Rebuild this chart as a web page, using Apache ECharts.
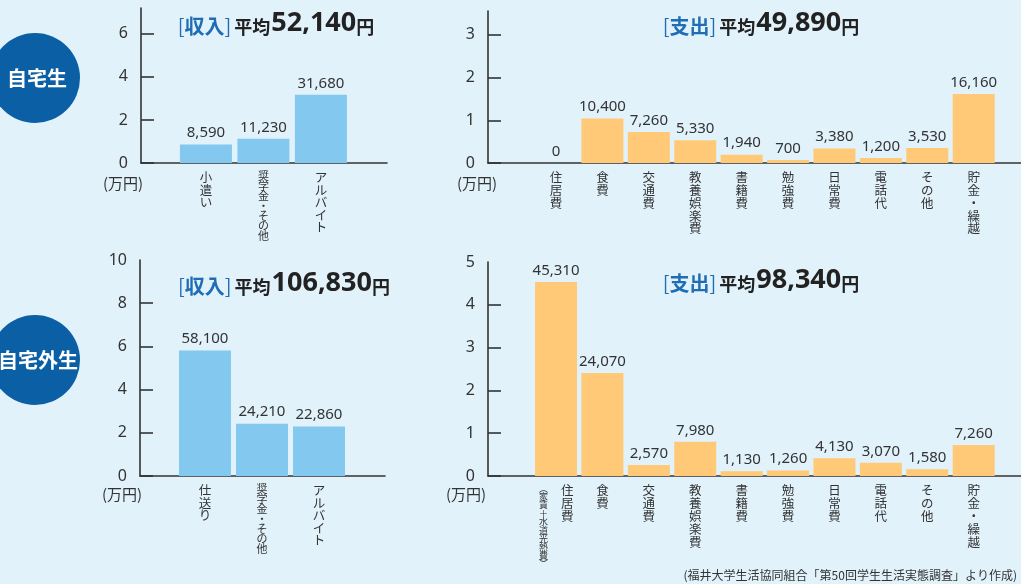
<!DOCTYPE html>
<html>
<head>
<meta charset="utf-8">
<script src="https://cdn.jsdelivr.net/npm/echarts@6/dist/echarts.min.js"></script>
<style>
html,body{margin:0;padding:0;background:#e1f2fb;}
#c{width:1021px;height:584px;}
</style>
</head>
<body>
<div id="c"></div>
<script>
// ---- data ----
const incomeCatsHome = ['小遣い', '奨学金・その他', 'アルバイト'];
const incomeHome = [8590, 11230, 31680];
const incomeCatsAway = ['仕送り', '奨学金・その他', 'アルバイト'];
const incomeAway = [58100, 24210, 22860];
const expenseCats = ['住居費', '食費', '交通費', '教養娯楽費', '書籍費', '勉強費', '日常費', '電話代', 'その他', '貯金・繰越'];
const expenseHome = [0, 10400, 7260, 5330, 1940, 700, 3380, 1200, 3530, 16160];
const expenseAway = [45310, 24070, 2570, 7980, 1130, 1260, 4130, 3070, 1580, 7260];
const housingNote = '︵家賃＋水道光熱費︶';
const avgIncomeHome = 52140, avgExpenseHome = 49890, avgIncomeAway = 106830, avgExpenseAway = 98340;
const groupNames = ['自宅生', '自宅外生'];
const yTicksTL = [0, 2, 4, 6], yLabelsTL = [0, 2, 4, 6];
const yTicksTR = [0, 1, 2, 3], yLabelsTR = [0, 1, 2, 3];
const yTicksBL = [0, 2, 4, 6, 8], yLabelsBL = [0, 2, 4, 6, 8, 10];
const yTicksBR = [0, 1, 2, 3, 4], yLabelsBR = [0, 1, 2, 3, 4, 5];
const unitLabel = '(万円)';
const sourceText = '(福井大学生活協同組合「第50回学生生活実態調査」より作成)';

// ---- styling ----
const FONT = '"Noto Sans", "Noto Sans CJK JP", sans-serif';
const CJK = '"Noto Sans CJK JP", sans-serif';
const INK = '#333333';
const BLUE_BAR = '#83c8ee';
const ORANGE_BAR = '#ffc977';
const fmt = v => v.toLocaleString('en-US');
const vert = s => s.split('').join('\n');

function labelFormatter(cats) {
  return function (v) {
    const i = Math.round(v);
    const name = cats[i];
    if (name === undefined) return '';
    if (name.indexOf('・') >= 0 && name.length >= 7) return '{s|' + vert(name) + '}';
    return '{m|' + vert(name) + '}';
  };
}
function xAxisDef(grid, min, max, cats, custom, fs, lh) {
  return {
    type: 'value', gridIndex: grid, min: min, max: max, position: 'bottom',
    axisLine: { show: true, onZero: false, lineStyle: { color: INK, width: 1.6 } },
    axisTick: { show: false }, splitLine: { show: false },
    axisLabel: {
      customValues: custom, formatter: labelFormatter(cats), margin: 8,
      color: INK, fontFamily: CJK, fontSize: fs, lineHeight: lh, verticalAlign: 'top',
      rich: {
        m: { fontFamily: CJK, fontSize: fs, lineHeight: lh, color: INK },
        s: { fontFamily: CJK, fontSize: 11, lineHeight: 10, color: INK }
      }
    }
  };
}
function yAxisDef(grid, max, ticks, labels) {
  return {
    type: 'value', gridIndex: grid, min: 0, max: max,
    axisLine: { show: true, onZero: false, lineStyle: { color: INK, width: 1.6 } },
    axisTick: { show: true, inside: true, length: 13, customValues: ticks, lineStyle: { color: INK, width: 1.6 } },
    axisLabel: { customValues: labels, color: INK, fontFamily: FONT, fontSize: 16, margin: 13 },
    splitLine: { show: false }
  };
}
function barSeries(idx, vals, color, width) {
  return {
    type: 'bar', xAxisIndex: idx, yAxisIndex: idx, barWidth: width,
    data: vals.map((v, i) => [i, v / 10000]),
    itemStyle: { color: color },
    label: {
      show: true, position: 'top', distance: 4, color: INK, fontFamily: FONT, fontSize: 15,
      formatter: p => fmt(vals[p.dataIndex])
    },
    silent: true
  };
}
function titleText(x, y, kind, amount) {
  return {
    type: 'text', x: x, y: y,
    style: {
      text: '{br|[}{bk|' + kind + '}{br|]}{k|平均}{n|' + fmt(amount) + '}{y|円}',
      align: 'center', verticalAlign: 'middle',
      rich: {
        br: { fontFamily: CJK, fontSize: 20, fill: '#1f6db5', verticalAlign: 'bottom', lineHeight: 28 },
        bk: { fontFamily: CJK, fontSize: 20, fill: '#1f6db5', fontWeight: 'bold', verticalAlign: 'bottom', lineHeight: 28 },
        k: { fontFamily: CJK, fontSize: 18, fill: '#222', fontWeight: 'bold', verticalAlign: 'bottom', lineHeight: 27, padding: [0, 1, 0, 3] },
        n: { fontFamily: FONT, fontSize: 27, fill: '#222', fontWeight: 'bold', verticalAlign: 'bottom', lineHeight: 31 },
        y: { fontFamily: CJK, fontSize: 18, fill: '#222', fontWeight: 'bold', verticalAlign: 'bottom', lineHeight: 27 }
      }
    }
  };
}
function plainText(x, y, text, size, align, color, weight) {
  return { type: 'text', x: x, y: y, style: { text: text, fontFamily: CJK, fontSize: size, fill: color || INK, align: align || 'center', verticalAlign: 'middle', fontWeight: weight || 'normal' } };
}

const subAxis = xAxisDef(3, -1.466, 10.02, [housingNote], [-0.27], 9, 8.4);
subAxis.axisLine.show = false;
subAxis.axisLabel.formatter = () => '{t|' + vert(housingNote) + '}';
subAxis.axisLabel.rich.t = { fontFamily: CJK, fontSize: 9, lineHeight: 8.4, color: INK };

const option = {
  backgroundColor: '#e1f2fb',
  animation: false,
  grid: [
    { left: 141, top: 8, width: 246, height: 155 },
    { left: 488, top: 11, width: 533, height: 152 },
    { left: 140, top: 260, width: 245, height: 216 },
    { left: 488, top: 262, width: 533, height: 214 }
  ],
  xAxis: [
    xAxisDef(0, -1.13, 3.15, incomeCatsHome, [0, 1, 2], 12.5, 12.5),
    xAxisDef(1, -1.466, 10.02, expenseCats, [0, 1, 2, 3, 4, 5, 6, 7, 8, 9], 12.5, 12.8),
    xAxisDef(2, -1.14, 3.158, incomeCatsAway, [0, 1, 2], 12.5, 12.5),
    xAxisDef(3, -1.466, 10.02, expenseCats, [0.24, 1, 2, 3, 4, 5, 6, 7, 8, 9], 12.5, 13),
    subAxis
  ],
  yAxis: [
    yAxisDef(0, 7.2, yTicksTL, yLabelsTL),
    yAxisDef(1, 3.56, yTicksTR, yLabelsTR),
    yAxisDef(2, 10, yTicksBL, yLabelsBL),
    yAxisDef(3, 5, yTicksBR, yLabelsBR)
  ],
  series: [
    barSeries(0, incomeHome, BLUE_BAR, 52),
    barSeries(1, expenseHome, ORANGE_BAR, 42),
    barSeries(2, incomeAway, BLUE_BAR, 52),
    barSeries(3, expenseAway, ORANGE_BAR, 42)
  ],
  graphic: [
    { type: 'circle', shape: { cx: 35, cy: 78, r: 45 }, style: { fill: '#0b5fa5' } },
    { type: 'circle', shape: { cx: 35, cy: 360, r: 45 }, style: { fill: '#0b5fa5' } },
    plainText(37, 78, groupNames[0], 20, 'center', '#ffffff', 'bold'),
    plainText(38, 360, groupNames[1], 20, 'center', '#ffffff', 'bold'),
    titleText(276, 21, '収入', avgIncomeHome),
    titleText(761, 21, '支出', avgExpenseHome),
    titleText(284, 281, '収入', avgIncomeAway),
    titleText(761, 278, '支出', avgExpenseAway),
    plainText(123, 183, unitLabel, 15),
    plainText(477, 183, unitLabel, 15),
    plainText(122, 494, unitLabel, 15),
    plainText(466, 494, unitLabel, 15),
    plainText(1017, 575, sourceText, 12, 'right')
  ]
};
const chart = echarts.init(document.getElementById('c'), null, { renderer: 'canvas' });
chart.setOption(option);
</script>
</body>
</html>
